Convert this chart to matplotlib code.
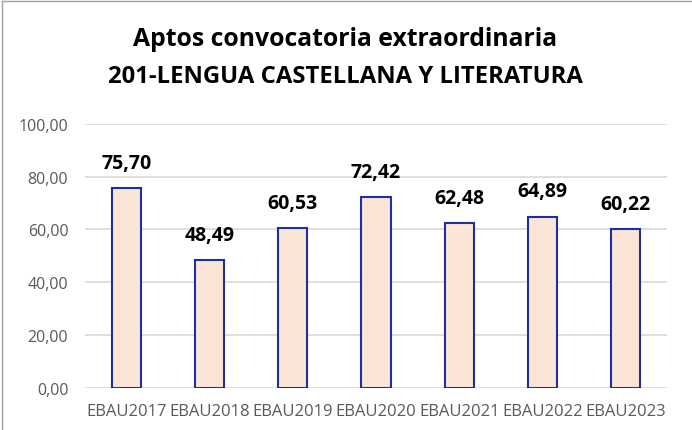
import numpy as np
import matplotlib
matplotlib.use("Agg")
import matplotlib.pyplot as plt
from matplotlib.lines import Line2D

categories = ["EBAU2017", "EBAU2018", "EBAU2019", "EBAU2020", "EBAU2021", "EBAU2022", "EBAU2023"]
values = [75.70, 48.49, 60.53, 72.42, 62.48, 64.89, 60.22]
yticks = [0, 20, 40, 60, 80, 100]

def fmt(v):
    return f"{v:.2f}".replace(".", ",")

plt.rcParams['font.family'] = ['Open Sans', 'DejaVu Sans']

fig = plt.figure(figsize=(6.92, 4.31), dpi=100)
ax = fig.add_axes([0.1228, 0.0986, 0.8412, 0.6114])

x = np.arange(len(categories))
bars = ax.bar(x, values, width=0.35, color="#FBE5D6", edgecolor="#1F2F9F", linewidth=1.5, zorder=3)

for xi, v in zip(x, values):
    ax.text(xi, v + 9.5, fmt(v), ha="center", va="center", fontsize=14,
            fontweight="bold", color="black")

ax.set_xlim(-0.5, len(categories) - 0.5)
ax.set_ylim(0, 100)
ax.set_yticks(yticks)
ax.set_yticklabels([fmt(t) for t in yticks], color="#595959", fontsize=11.5)
ax.set_xticks(x)
ax.set_xticklabels(categories, color="#595959", fontsize=12)
ax.tick_params(axis="y", length=0, pad=12)
ax.tick_params(axis="x", length=0, pad=11)
ax.yaxis.grid(True, color="#D9D9D9", linewidth=1.2, zorder=0)
for s in ax.spines.values():
    s.set_visible(False)

fig.text(0.499, 0.909, "Aptos convocatoria extraordinaria", ha="center", va="center",
         fontsize=17.8, fontweight="bold")
fig.text(0.499, 0.821, "201-LENGUA CASTELLANA Y LITERATURA", ha="center", va="center",
         fontsize=17.2, fontweight="bold")

# outer frame (top and left visible)
fig.add_artist(Line2D([0.003, 0.003], [0, 0.995], transform=fig.transFigure, color="#A0A0A0", linewidth=1))
fig.add_artist(Line2D([0.003, 1], [0.995, 0.995], transform=fig.transFigure, color="#A0A0A0", linewidth=1))

fig.savefig("out.png", dpi=100)
